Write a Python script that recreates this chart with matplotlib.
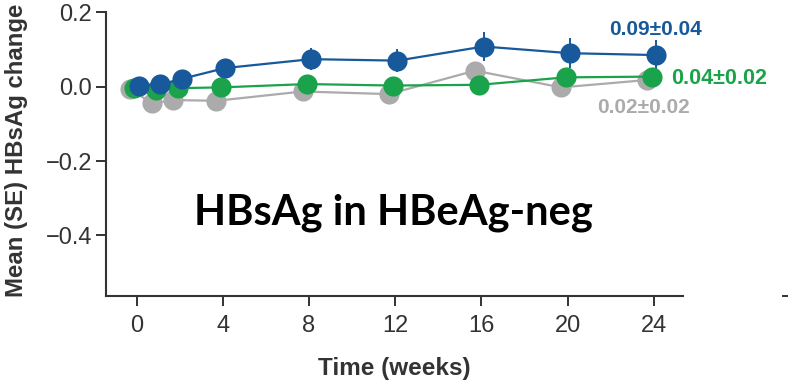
import matplotlib
matplotlib.use("Agg")
import matplotlib.pyplot as plt
from matplotlib.lines import Line2D

weeks = [0, 1, 2, 4, 8, 12, 16, 20, 24]
blue_vals = [0.002, 0.006, 0.021, 0.050, 0.074, 0.070, 0.108, 0.090, 0.085]
blue_se = [0.01, 0.01, 0.012, 0.015, 0.03, 0.03, 0.04, 0.04, 0.04]
green_vals = [-0.004, -0.010, -0.004, -0.002, 0.007, 0.003, 0.005, 0.025, 0.027]
green_se = [0.01, 0.01, 0.01, 0.01, 0.015, 0.015, 0.02, 0.02, 0.02]
gray_vals = [-0.006, -0.045, -0.036, -0.038, -0.013, -0.020, 0.043, -0.002, 0.018]
gray_se = [0.01, 0.01, 0.01, 0.01, 0.015, 0.015, 0.02, 0.02, 0.02]

blue_label = "0.09±0.04"
green_label = "0.04±0.02"
gray_label = "0.02±0.02"
xticks = [0, 4, 8, 12, 16, 20, 24]
yticks = [0.2, 0.0, -0.2, -0.4]
ytick_labels = ["0.2", "0.0", "\u22120.2", "\u22120.4"]

BLUE = "#17599b"
GREEN = "#1aa34a"
GRAY = "#ababab"
AX = "#333333"

plt.rcParams["font.family"] = ["Liberation Sans", "DejaVu Sans"]

fig = plt.figure(figsize=(7.88, 3.84), dpi=100)
ax = fig.add_axes([106/788, 1-296/384, (683-106)/788, (296-12.3)/384])

series = [
    (gray_vals, gray_se, GRAY, -0.3),
    (green_vals, green_se, GREEN, -0.1),
    (blue_vals, blue_se, BLUE, 0.1),
]
for vals, se, col, off in series:
    xs = [w + off for w in weeks]
    ax.errorbar(xs, vals, yerr=se, color=col, lw=1.6, elinewidth=1.4,
                capsize=0, marker="o", markersize=14.5, markeredgewidth=0,
                zorder=3)

ax.set_xlim(-1.42, 25.35)
ax.set_ylim(-0.563, 0.2)
ax.set_xticks(xticks)
ax.set_xticklabels([str(t) for t in xticks])
ax.set_yticks(yticks)
ax.set_yticklabels(ytick_labels)
for s in ["top", "right"]:
    ax.spines[s].set_visible(False)
for s in ["left", "bottom"]:
    ax.spines[s].set_color(AX)
    ax.spines[s].set_linewidth(1.5)
ax.tick_params(axis="both", colors=AX, labelcolor=AX, labelsize=17,
               length=7, width=1.4, direction="out")
ax.tick_params(axis="x", pad=7)
ax.tick_params(axis="y", pad=3)

ax.set_xlabel("Time (weeks)", fontsize=17.5, fontweight="bold", color=AX, labelpad=14)
fig.text(17/788, 1-297/384, "Mean (SE) HBsAg change", rotation=90,
         ha="center", va="bottom", fontsize=17.3, fontweight="bold", color=AX)

ax.text(24.08, 0.155, blue_label, color=BLUE, fontsize=15,
        fontweight="bold", ha="center", va="center")
ax.text(24.78, 0.023, green_label, color=GREEN, fontsize=15.5,
        fontweight="bold", ha="left", va="center")
ax.text(23.52, -0.055, gray_label, color=GRAY, fontsize=15,
        fontweight="bold", ha="center", va="center")

fig.text(393/788, 1-213/384, "HBsAg in HBeAg-neg", fontsize=30, fontweight="bold",
         family=["Lato", "DejaVu Sans"], ha="center", va="center", color="black")

fig.add_artist(Line2D([783/788, 1.0], [1-296/384, 1-296/384], color=AX, lw=1.4,
                      transform=fig.transFigure))

fig.savefig("out.png", dpi=100)
